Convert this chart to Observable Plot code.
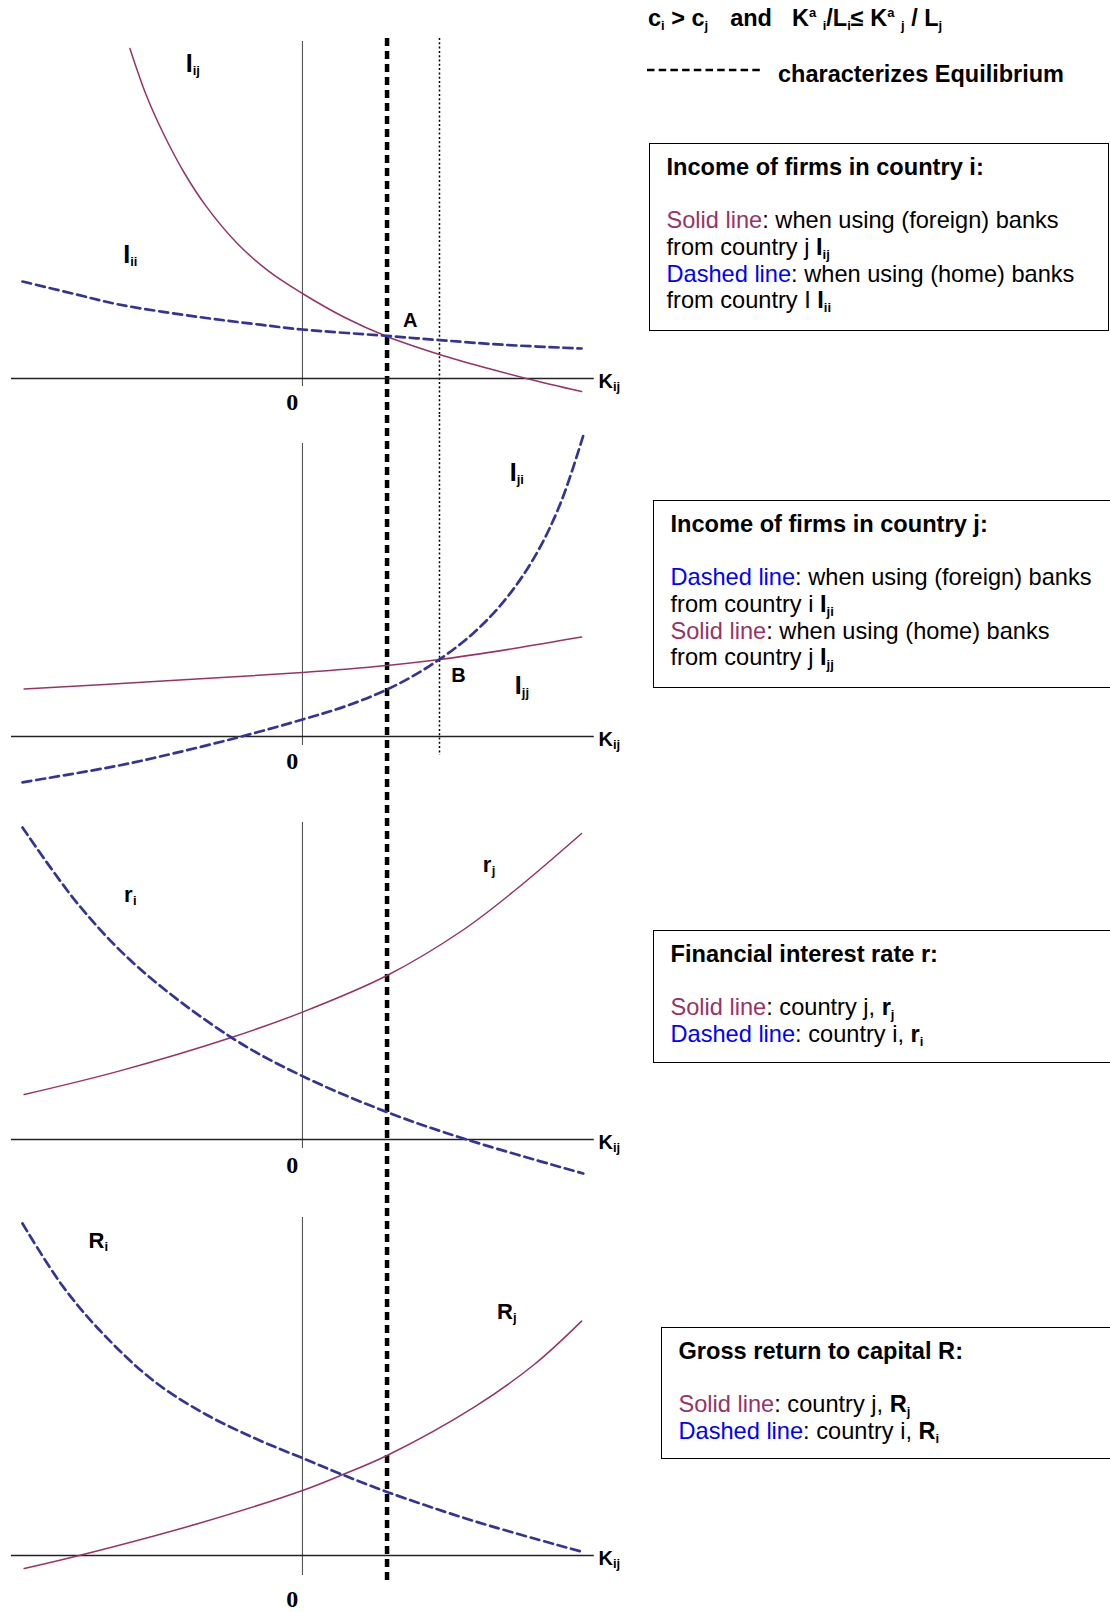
<!DOCTYPE html>
<html>
<head>
<meta charset="utf-8">
<script src="https://cdn.jsdelivr.net/npm/d3@7"></script>
<script src="https://cdn.jsdelivr.net/npm/@observablehq/plot@0.6"></script>
<style>
  body { margin: 0; background: #fff; }
  #page { position: relative; width: 1110px; height: 1612px; overflow: hidden; background: #fff;
          font-family: "Liberation Sans", Arial, sans-serif; color: #000; }
  .panel { position: absolute; left: 0; width: 620px; }
  .panel svg { display: block; }
  .box { position: absolute; box-sizing: border-box; border: 1.2px solid #000;
         padding: 9.5px 0 0 16.5px; font-size: 23.6px; line-height: 26.8px; white-space: nowrap; }
  .box .t { font-weight: bold; }
  .sol { color: #993366; }
  .das { color: #0000ff; }
  sub { font-size: 13px; line-height: 0; vertical-align: baseline; position: relative; top: 4px; }
  sup { font-size: 13px; line-height: 0; vertical-align: baseline; position: relative; top: -9px; }
  .hdr { position: absolute; font-weight: bold; font-size: 23.5px; line-height: 26px; white-space: pre; }
</style>
</head>
<body>
<div id="page">
  <div class="hdr" style="left:648px; top:5px;">c<sub>i</sub> &gt; c<sub>j</sub><span style="margin-left:22px">and</span><span style="margin-left:20px">K</span><sup>a</sup> <sub>i</sub>/L<sub>i</sub>≤ K<sup>a</sup> <sub>j</sub> / L<sub>j</sub></div>
  <svg style="position:absolute; left:647px; top:67px;" width="116" height="6">
    <line x1="0" x2="113" y1="3" y2="3" stroke="#000" stroke-width="2.6" stroke-dasharray="7.5,4.2"></line>
  </svg>
  <div class="hdr" style="left:778px; top:61px;">characterizes Equilibrium</div>

  <div class="box" style="left:649px; top:143px; width:460px; height:188px;">
    <div class="t">Income of firms in country i:</div>
    <div>&nbsp;</div>
    <div><span class="sol">Solid line</span>: when using (foreign) banks</div>
    <div>from country j <b>I<sub>ij</sub></b></div>
    <div><span class="das">Dashed line</span>: when using (home) banks</div>
    <div>from country I <b>I<sub>ii</sub></b></div>
  </div>

  <div class="box" style="left:653px; top:500px; width:470px; height:188px;">
    <div class="t">Income of firms in country j:</div>
    <div>&nbsp;</div>
    <div><span class="das">Dashed line</span>: when using (foreign) banks</div>
    <div>from country i <b>I<sub>ji</sub></b></div>
    <div><span class="sol">Solid line</span>: when using (home) banks</div>
    <div>from country j <b>I<sub>jj</sub></b></div>
  </div>

  <div class="box" style="left:653px; top:930px; width:470px; height:133px;">
    <div class="t">Financial interest rate r:</div>
    <div>&nbsp;</div>
    <div><span class="sol">Solid line</span>: country j, <b>r<sub>j</sub></b></div>
    <div><span class="das">Dashed line</span>: country i, <b>r<sub>i</sub></b></div>
  </div>

  <div class="box" style="left:661px; top:1327px; width:470px; height:132px;">
    <div class="t">Gross return to capital R:</div>
    <div>&nbsp;</div>
    <div><span class="sol">Solid line</span>: country j, <b>R<sub>j</sub></b></div>
    <div><span class="das">Dashed line</span>: country i, <b>R<sub>i</sub></b></div>
  </div>
</div>

<script>
// ---------------- DATA ----------------
// K_ij values (0 = vertical axis; equilibrium at K = 1)
const kEquilibrium = 1.0;
const kPointB = 1.62;

// Panel 1: income of firms in country i
const p1K_Iij = [-2.04, -1.85, -1.65, -1.4, -1.14, -0.77, -0.4, 0, 0.5, 1.0, 1.62, 2.2, 2.67, 3.30];
const p1V_Iij = [16.5, 14.2, 12.3, 10.3, 8.62, 6.75, 5.37, 4.25, 3.05, 2.1, 1.2, 0.5, -0.02, -0.65];
const p1K_Iii = [-3.31, -2.7, -2.17, -1.23, -0.5, 0, 1.0, 1.62, 2.4, 3.30];
const p1V_Iii = [4.85, 4.23, 3.7, 3.08, 2.69, 2.45, 2.13, 1.92, 1.68, 1.5];

// Panel 2: income of firms in country j
const p2K_Ijj = [-3.29, -1.70, 0, 1.0, 1.62, 2.50, 3.30];
const p2V_Ijj = [2.37, 2.76, 3.2, 3.55, 3.85, 4.4, 4.97];
const p2K_Iji = [-3.31, -2.17, -1.5, -0.72, 0, 0.5, 1.0, 1.5, 2.0, 2.4, 2.75, 3.05, 3.32];
const p2V_Iji = [-2.29, -1.45, -0.82, 0, 0.85, 1.5, 2.35, 3.52, 5.09, 6.86, 9.02, 11.65, 15.05];

// Panel 3: financial interest rate r
const p3K_rj = [-3.29, -2.17, -0.84, 0, 1.0, 1.89, 2.51, 3.30];
const p3V_rj = [2.25, 3.42, 5.1, 6.37, 8.2, 10.45, 12.45, 15.3];
const p3K_ri = [-3.31, -2.64, -1.94, -0.84, 0, 1.0, 1.94, 3.32];
const p3V_ri = [15.6, 11.7, 8.6, 5.1, 3.17, 1.37, 0, -1.7];

// Panel 4: gross return to capital R
const p4K_Rj = [-3.29, -2.64, -1.23, 0, 0.45, 1.0, 2.03, 2.74, 3.30];
const p4V_Rj = [-0.65, 0, 1.6, 3.25, 4.0, 5.0, 7.42, 9.55, 11.72];
const p4K_Ri = [-3.31, -2.84, -2.35, -1.75, -1.14, -0.53, 0, 0.45, 1.0, 2.03, 3.32];
const p4V_Ri = [16.6, 13.5, 11.05, 8.7, 7.05, 5.8, 4.87, 4.08, 3.18, 1.72, 0.17];

// Curve labels
const p1Labels = [
  {main: "I", sub: "ij", k: -1.38, v: 15.35},
  {main: "I", sub: "ii", k: -2.12, v: 5.8},
  {main: "A", sub: "",   k: 1.19,  v: 2.6}
];
const p2Labels = [
  {main: "I", sub: "ji", k: 2.45, v: 12.8},
  {main: "B", sub: "",   k: 1.76, v: 2.75},
  {main: "I", sub: "jj", k: 2.51, v: 2.15}
];
const p3Labels = [
  {main: "r", sub: "j", k: 2.13,  v: 13.4},
  {main: "r", sub: "i", k: -2.11, v: 11.9}
];
const p4Labels = [
  {main: "R", sub: "i", k: -2.53, v: 15.4},
  {main: "R", sub: "j", k: 2.30,  v: 11.85}
];
const axisLabelMain = "K";
const axisLabelSub = "ij";
const zeroLabel = "0";

// ---------------- LAYOUT / STYLE ----------------
const W = 620;
const xDomain = [-3.57, 3.76];
const hAxisExtent = [-3.44, 3.45];
const axisLabelAt = {k: 3.50, v: -0.45};
const zeroLabelK = -0.12;

const panels = [
  {top: 0,    height: 415, y: [-1.85, 18.9],  vAxis: [16.85, -0.4], zeroV: -1.55,
   eq: [17.0, -1.85], dot: [17.0, -1.85],
   curves: [{name: "Iij", k: p1K_Iij, v: p1V_Iij, solid: true}, {name: "Iii", k: p1K_Iii, v: p1V_Iii, solid: false}],
   labels: p1Labels},
  {top: 415,  height: 390, y: [-3.45, 16.05], vAxis: [14.65, -0.45], zeroV: -1.6,
   eq: [16.05, -3.45], dot: [16.05, -0.95],
   curves: [{name: "Ijj", k: p2K_Ijj, v: p2V_Ijj, solid: true}, {name: "Iji", k: p2K_Iji, v: p2V_Iji, solid: false}],
   labels: p2Labels},
  {top: 805,  height: 390, y: [-2.8, 16.7],   vAxis: [15.85, -0.45], zeroV: -1.65,
   eq: [16.7, -2.8], dot: null,
   curves: [{name: "rj", k: p3K_rj, v: p3V_rj, solid: true}, {name: "ri", k: p3K_ri, v: p3V_ri, solid: false}],
   labels: p3Labels},
  {top: 1195, height: 417, y: [-2.85, 18.0],  vAxis: [16.9, -1.0], zeroV: -2.55,
   eq: [18.0, -1.35], dot: null,
   curves: [{name: "Rj", k: p4K_Rj, v: p4V_Rj, solid: true}, {name: "Ri", k: p4K_Ri, v: p4V_Ri, solid: false}],
   labels: p4Labels}
];

const solidColor = "#993366";
const dashedColor = "#333399";
const letterStyle = {
  I: {size: 25, dx: 7},
  A: {size: 20, dx: 0},
  B: {size: 20, dx: 0},
  r: {size: 22, dx: 9},
  R: {size: 22, dx: 16},
  K: {size: 20, dx: 14.5}
};
const FONT = "Liberation Sans, Arial, sans-serif";

function rowsOf(curves, solid) {
  const rows = [];
  for (const c of curves.filter(c => c.solid === solid)) {
    c.k.forEach((k, i) => rows.push({series: c.name, k, v: c.v[i]}));
  }
  return rows;
}

const page = document.getElementById("page");

for (const p of panels) {
  const labels = p.labels.concat([{main: axisLabelMain, sub: axisLabelSub, k: axisLabelAt.k, v: axisLabelAt.v}]);
  const marks = [];

  // equilibrium (thick dashed) and point-B (dotted) verticals
  marks.push(Plot.ruleX([{k: kEquilibrium, y1: p.eq[0], y2: p.eq[1]}],
    {x: "k", y1: "y1", y2: "y2", stroke: "#000", strokeWidth: 4.5, strokeDasharray: "8,5"}));
  if (p.dot) {
    marks.push(Plot.ruleX([{k: kPointB, y1: p.dot[0], y2: p.dot[1]}],
      {x: "k", y1: "y1", y2: "y2", stroke: "#000", strokeWidth: 1.5, strokeDasharray: "2,2.3"}));
  }

  // axes
  marks.push(Plot.ruleX([{k: 0, y1: p.vAxis[0], y2: p.vAxis[1]}],
    {x: "k", y1: "y1", y2: "y2", stroke: "#555", strokeWidth: 1.1}));
  marks.push(Plot.ruleY([0], {x1: hAxisExtent[0], x2: hAxisExtent[1], stroke: "#222", strokeWidth: 1.3}));

  // curves
  marks.push(Plot.line(rowsOf(p.curves, true),
    {x: "k", y: "v", z: "series", stroke: solidColor, strokeWidth: 1.5, curve: "catmull-rom"}));
  marks.push(Plot.line(rowsOf(p.curves, false),
    {x: "k", y: "v", z: "series", stroke: dashedColor, strokeWidth: 2.7, strokeDasharray: "9,5", curve: "catmull-rom"}));

  // labels (main letter + subscript)
  for (const L of Object.keys(letterStyle)) {
    const subset = labels.filter(d => d.main === L);
    if (!subset.length) continue;
    const st = letterStyle[L];
    marks.push(Plot.text(subset, {x: "k", y: "v", text: "main", textAnchor: "start", lineAnchor: "bottom",
      fontSize: st.size, fontWeight: "bold", fontFamily: FONT, fill: "#000"}));
    const subs = subset.filter(d => d.sub);
    if (subs.length) {
      marks.push(Plot.text(subs, {x: "k", y: "v", text: "sub", textAnchor: "start", lineAnchor: "bottom",
        dx: st.dx, dy: 3.5, fontSize: 13, fontWeight: "bold", fontFamily: FONT, fill: "#000"}));
    }
  }

  // origin label
  marks.push(Plot.text([{k: zeroLabelK, v: p.zeroV, t: zeroLabel}], {x: "k", y: "v", text: "t",
    textAnchor: "middle", lineAnchor: "bottom", fontSize: 24, fontWeight: "bold",
    fontFamily: "Liberation Serif, Times New Roman, serif", fill: "#000"}));

  const chart = Plot.plot({
    width: W,
    height: p.height,
    marginTop: 0, marginRight: 0, marginBottom: 0, marginLeft: 0,
    x: {domain: xDomain, axis: null},
    y: {domain: p.y, axis: null},
    style: {background: "transparent", overflow: "visible", fontFamily: FONT},
    marks
  });

  const holder = document.createElement("div");
  holder.className = "panel";
  holder.style.top = p.top + "px";
  holder.style.height = p.height + "px";
  holder.appendChild(chart);
  page.appendChild(holder);
}
</script>
</body>
</html>
